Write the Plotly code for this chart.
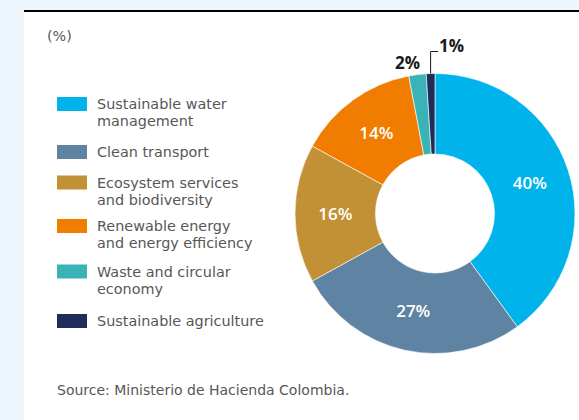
import math
import plotly.graph_objects as go

# ---------------- data ----------------
categories = [
    "Sustainable water management",
    "Clean transport",
    "Ecosystem services and biodiversity",
    "Renewable energy and energy efficiency",
    "Waste and circular economy",
    "Sustainable agriculture",
]
legend_lines = [
    ["Sustainable water", "management"],
    ["Clean transport"],
    ["Ecosystem services", "and biodiversity"],
    ["Renewable energy", "and energy efficiency"],
    ["Waste and circular", "economy"],
    ["Sustainable agriculture"],
]
values = [40, 27, 16, 14, 2, 1]
colors = ["#00b4eb", "#5f84a3", "#c29136", "#f07d00", "#39b3b6", "#1f2d5a"]
unit_label = "(%)"
source_text = "Source: Ministerio de Hacienda Colombia."

# ---------------- layout constants (pixels) ----------------
W, H = 579, 420
CX, CY, R = 435, 213.5, 140
HOLE = 0.425
LEG_TOPS = [97, 145, 175.5, 219, 264.5, 314]
LINE_H = 17
TXT_FONT = "DejaVu Sans"
NUM_FONT = "Open Sans"
TXT_COLOR = "#575757"


def px(x):
    return x / W


def py(y):
    return 1 - y / H


inside = [v >= 5 for v in values]
fig = go.Figure(
    go.Pie(
        labels=categories,
        values=values,
        hole=HOLE,
        sort=False,
        direction="clockwise",
        rotation=0,
        marker=dict(colors=colors, line=dict(color="white", width=0.6)),
        texttemplate=["%{value}%" if i else "" for i in inside],
        textposition=["inside" if i else "none" for i in inside],
        insidetextorientation="horizontal",
        insidetextfont=dict(family=NUM_FONT, size=17, color="white", weight=600),
        hoverinfo="label+percent",
        showlegend=False,
        domain=dict(x=[px(CX - R), px(CX + R)], y=[py(CY + R), py(CY - R)]),
    )
)

shapes = [
    # white panel
    dict(type="rect", xref="paper", yref="paper", x0=px(24), x1=1, y0=0, y1=py(12),
         fillcolor="white", line=dict(width=0), layer="below"),
    # black top rule
    dict(type="rect", xref="paper", yref="paper", x0=px(24), x1=1, y0=py(12), y1=py(10),
         fillcolor="black", line=dict(width=0), layer="below"),
]
annotations = [
    dict(text=unit_label, x=px(46), y=py(36), xref="paper", yref="paper", xanchor="left",
         yanchor="middle", showarrow=False, borderpad=0,
         font=dict(family=TXT_FONT, size=14.4, color=TXT_COLOR)),
    dict(text=source_text, x=px(56), y=py(390), xref="paper", yref="paper", xanchor="left",
         yanchor="middle", showarrow=False, borderpad=0,
         font=dict(family=TXT_FONT, size=14, color=TXT_COLOR)),
]

# custom legend (wide swatches, tight two-line labels)
for top, lines, col in zip(LEG_TOPS, legend_lines, colors):
    shapes.append(dict(type="rect", xref="paper", yref="paper", x0=px(57), x1=px(87),
                       y0=py(top + 14), y1=py(top), fillcolor=col, line=dict(width=0)))
    for k, ln in enumerate(lines):
        annotations.append(dict(text=ln, x=px(95.5), y=py(top + 7.3 + k * LINE_H), xref="paper",
                                yref="paper", xanchor="left", yanchor="middle", showarrow=False,
                                borderpad=0,
                                font=dict(family=TXT_FONT, size=14.4, color=TXT_COLOR)))

# outside labels for the small slices
total = sum(values)
cum = 0
small = []
for v, ins in zip(values, inside):
    mid = (cum + v / 2) / total * 2 * math.pi
    cum += v
    if not ins:
        small.append((v, CX + R * math.sin(mid), CY - R * math.cos(mid)))

(v2, x2, y2), (v1, x1, y1) = small
annotations.append(dict(text=f"{v2}%", x=px(x2 + 3.5), y=py(y2 - 12.4), xref="paper", yref="paper",
                        xanchor="right", yanchor="middle", showarrow=False, borderpad=0,
                        font=dict(family=NUM_FONT, size=17, color="#1a1a1a", weight=700)))
elbow_y = 51.5
shapes.append(dict(type="path", xref="paper", yref="paper",
                   path=f"M {px(x1)},{py(y1)} L {px(x1)},{py(elbow_y)} L {px(x1 + 7.5)},{py(elbow_y)}",
                   line=dict(color="#1a1a1a", width=1)))
annotations.append(dict(text=f"{v1}%", x=px(x1 + 7.5), y=py(elbow_y - 5.7), xref="paper", yref="paper",
                        xanchor="left", yanchor="middle", showarrow=False, borderpad=0,
                        font=dict(family=NUM_FONT, size=17, color="#1a1a1a", weight=700)))

fig.update_layout(
    width=W, height=H,
    margin=dict(l=0, r=0, t=0, b=0),
    paper_bgcolor="#eef6fd",
    plot_bgcolor="white",
    shapes=shapes,
    annotations=annotations,
)

fig.write_html("out.html", config={"displayModeBar": False},
               post_script="document.body.style.margin='0';")
